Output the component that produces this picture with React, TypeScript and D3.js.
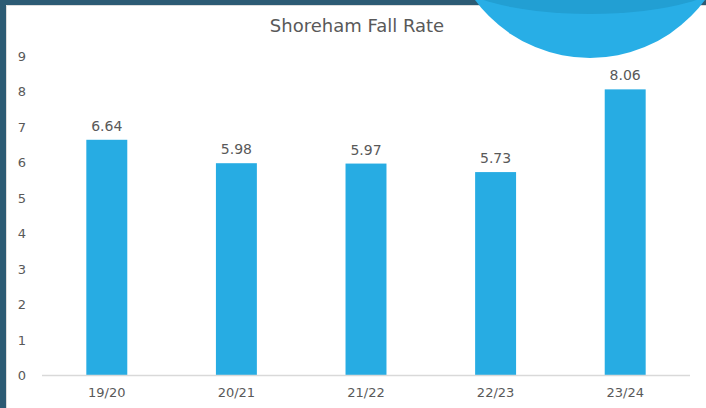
import React from "react";
import * as d3 from "d3";

const categories = ["19/20", "20/21", "21/22", "22/23", "23/24"];
const values = [6.64, 5.98, 5.97, 5.73, 8.06];
const yTicks = [0, 1, 2, 3, 4, 5, 6, 7, 8, 9];
const title = "Shoreham Fall Rate";

const W = 706;
const H = 408;
const FONT = "'DejaVu Sans', 'Liberation Sans', sans-serif";
const TEXT = "#595959";
const BAR = "#27ace3";

export default function App() {
  const x = d3.scaleBand<string>().domain(categories).range([42, 690]).paddingInner(0.684).paddingOuter(0.342);
  const y = d3.scaleLinear().domain([0, 9]).range([375.5, 56]);

  const circleCx = 590;
  const circleCy = -85;
  const circleR = 143;

  return (
    <svg width={W} height={H} style={{ position: "absolute", left: 0, top: 0, display: "block" }}>
      <defs>
        <clipPath id="circClip">
          <circle cx={circleCx} cy={circleCy} r={circleR} />
        </clipPath>
      </defs>
      <rect x={0} y={0} width={W} height={H} fill="#ffffff" />
      {/* frame */}
      <rect x={0} y={0} width={W} height={5} fill="#2c5b74" />
      <rect x={0} y={0} width={6} height={H} fill="#2c5b74" />
      <line x1={6.5} y1={5.5} x2={W} y2={5.5} stroke="#dcdcdc" strokeWidth={1} />
      <line x1={6.5} y1={5.5} x2={6.5} y2={H} stroke="#dcdcdc" strokeWidth={1} />

      {/* decorative circle */}
      <circle cx={circleCx} cy={circleCy} r={circleR} fill="#28aee6" />
      <ellipse cx={590} cy={-26} rx={140} ry={40} fill="#229fd3" clipPath="url(#circClip)" />

      {/* title */}
      <text x={357} y={32} textAnchor="middle" fontFamily={FONT} fontSize={18} fill={TEXT}>
        {title}
      </text>

      {/* y tick labels */}
      {yTicks.map((t) => (
        <text key={t} x={22} y={y(t) + 4.7} textAnchor="middle" fontFamily={FONT} fontSize={13} fill={TEXT}>
          {t}
        </text>
      ))}

      {/* bars */}
      {categories.map((c, i) => (
        <rect key={c} x={x(c)} y={y(values[i])} width={x.bandwidth()} height={y(0) - y(values[i])} fill={BAR} />
      ))}

      {/* axis line */}
      <line x1={42} x2={690} y1={375.5} y2={375.5} stroke="#d9d9d9" strokeWidth={1.5} />

      {/* value labels */}
      {categories.map((c, i) => (
        <text
          key={c + "v"}
          x={(x(c) as number) + x.bandwidth() / 2}
          y={y(values[i]) - 9}
          textAnchor="middle"
          fontFamily={FONT}
          fontSize={14}
          fill={TEXT}
        >
          {values[i].toFixed(2)}
        </text>
      ))}

      {/* category labels */}
      {categories.map((c) => (
        <text
          key={c + "c"}
          x={(x(c) as number) + x.bandwidth() / 2}
          y={397}
          textAnchor="middle"
          fontFamily={FONT}
          fontSize={13}
          fill={TEXT}
        >
          {c}
        </text>
      ))}
    </svg>
  );
}
